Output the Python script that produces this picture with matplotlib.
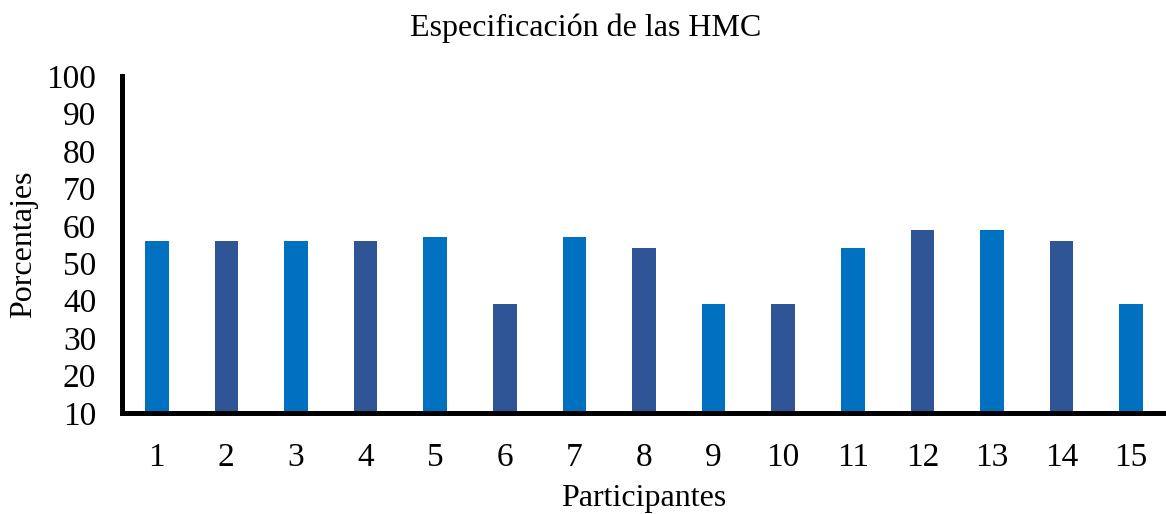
import matplotlib
matplotlib.use("Agg")
import matplotlib.pyplot as plt

participants = [str(i) for i in range(1, 16)]
percentages = [56, 56, 56, 56, 57, 39, 57, 54, 39, 39, 54, 59, 59, 56, 39]
bar_colors = ["#0070C0", "#2F5597"]

plt.rcParams["font.family"] = ["Liberation Serif", "DejaVu Serif"]

fig = plt.figure(figsize=(11.66, 5.14), dpi=100)
ax = fig.add_axes([0.1046, 0.1965, 0.8954, 0.6555])

x = list(range(1, len(participants) + 1))
colors = [bar_colors[i % 2] for i in range(len(participants))]
ax.bar(x, percentages, width=0.34, color=colors, zorder=2)

ax.set_xlim(0.5, len(participants) + 0.5)
ax.set_ylim(10, 100)
ax.set_yticks(range(10, 101, 10))
ax.set_xticks(x)
ax.set_xticklabels(participants)
ax.tick_params(axis="both", length=0, labelsize=24)
ax.tick_params(axis="x", pad=21)
ax.tick_params(axis="y", pad=18.5)

for side in ("top", "right"):
    ax.spines[side].set_visible(False)
for side in ("left", "bottom"):
    ax.spines[side].set_linewidth(3.6)
    ax.spines[side].set_color("black")
    ax.spines[side].set_capstyle("projecting")

ax.set_xlabel("Participantes", fontsize=23, labelpad=8)
ax.set_ylabel("Porcentajes", fontsize=23, labelpad=6)
fig.text(0.502, 0.945, "Especificación de las HMC", ha="center", va="center", fontsize=23)

fig.savefig("out.png", dpi=100)
